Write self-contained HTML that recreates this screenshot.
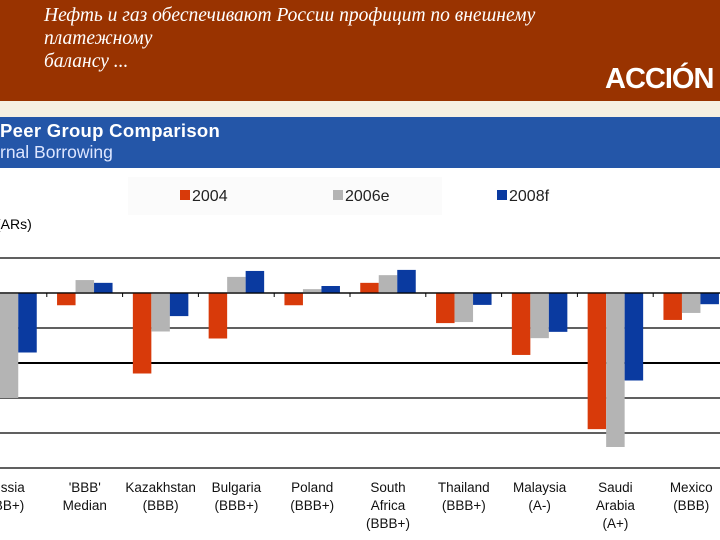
<!DOCTYPE html>
<html><head><meta charset="utf-8"><style>
body{margin:0;width:720px;height:540px;overflow:hidden;background:#fff;position:relative;font-family:"Liberation Sans",sans-serif}
.hdr{position:absolute;left:0;top:0;width:720px;height:101px;background:#993300}
.ttl{position:absolute;left:44px;top:4px;color:#fff;font:italic 19.5px/23px "Liberation Serif","Noto Serif CJK SC",serif}
.logo{position:absolute;left:605px;top:63px;color:#fff;font:900 29px "Liberation Sans",sans-serif;letter-spacing:-1px}
.cream{position:absolute;left:0;top:101px;width:720px;height:16px;background:#f6f0e2}
.blue{position:absolute;left:0;top:117px;width:720px;height:51px;background:#2456a8}
</style></head><body>
<div class="hdr"></div>
<div class="ttl">Нефть и газ обеспечивают России профицит по внешнему<br>платежному<br>балансу ...</div>
<div class="logo">ACCIÓN</div>
<div class="cream"></div>
<div class="blue"></div>
<div style="position:absolute;left:0;top:120px;color:#fff;font-weight:bold;font-size:18.5px;letter-spacing:0.3px">Peer Group Comparison</div>
<div style="position:absolute;left:0;top:142px;color:#dde6ff;font-size:17.5px">rnal Borrowing</div>
<svg id="c" width="720" height="540" style="position:absolute;left:0;top:0"></svg>
<script>
const categories=[["ussia","BB+)"],["'BBB'","Median"],["Kazakhstan","(BBB)"],["Bulgaria","(BBB+)"],["Poland","(BBB+)"],["South","Africa","(BBB+)"],["Thailand","(BBB+)"],["Malaysia","(A-)"],["Saudi","Arabia","(A+)"],["Mexico","(BBB)"]];
const s2004=[-40,-3.5,-23,-13,-3.5,2.9,-8.6,-17.7,-38.9,-7.7];
const s2006=[-30,3.7,-11,4.6,1.1,5.1,-8.3,-12.9,-44,-5.7];
const s2008=[-17,2.9,-6.6,6.3,2.0,6.6,-3.4,-11.1,-25,-3.2];
const seriesNames=["2004","2006e","2008f"];
const colors=["#d83a0a","#b4b4b4","#0a3aa0"];
const gridVals=[10,0,-10,-20,-30,-40,-50];
const NS="http://www.w3.org/2000/svg",svg=document.getElementById('c');
const y=v=>293-v*3.5, xc=i=>9+75.8*i, bw=18.5;
function mk(t,a){const e=document.createElementNS(NS,t);for(const k in a)e.setAttribute(k,a[k]);svg.appendChild(e);return e;}
let lb=mk('rect',{x:128,y:177,width:314,height:38,fill:'#fbfbfb'});


let ax=mk('text',{x:-4,y:229,'font-size':14,fill:'#000'});ax.textContent='(ARs)';


const lx=[180,333,497];
seriesNames.forEach((n,i)=>{
 let r=mk('rect',{x:lx[i],y:190,width:10,height:10,fill:colors[i]});
 
 
 let t=mk('text',{x:lx[i]+12,y:201,'font-size':16,fill:'#222'});t.textContent=n;
 
 
});
gridVals.forEach(v=>{
 let l=mk('line',{x1:0,x2:720,y1:y(v),y2:y(v),stroke:'#000','stroke-width':v==-20?2:1.2});
 
 
});
const series=[s2004,s2006,s2008];
categories.forEach((c,i)=>{
 series.forEach((s,j)=>{
  const v=s[i],x=xc(i)+(j-1.5)*bw;
  let r=mk('rect',{x:x,y:Math.min(y(v),y(0)),width:bw,height:Math.abs(y(v)-y(0)),fill:colors[j]});
  
  
 });
 let tk=mk('line',{x1:xc(i)-38,x2:xc(i)-38,y1:293,y2:297,stroke:'#000'});
 
 
 c.forEach((ln,k)=>{
  let t=mk('text',{x:xc(i),y:492+k*18,'font-size':13.5,'text-anchor':'middle',fill:'#111'});t.textContent=ln;
  
  
 });
});
let zl=mk('line',{x1:0,x2:720,y1:293,y2:293,stroke:'#000','stroke-width':1.2});


</script>
</body></html>
